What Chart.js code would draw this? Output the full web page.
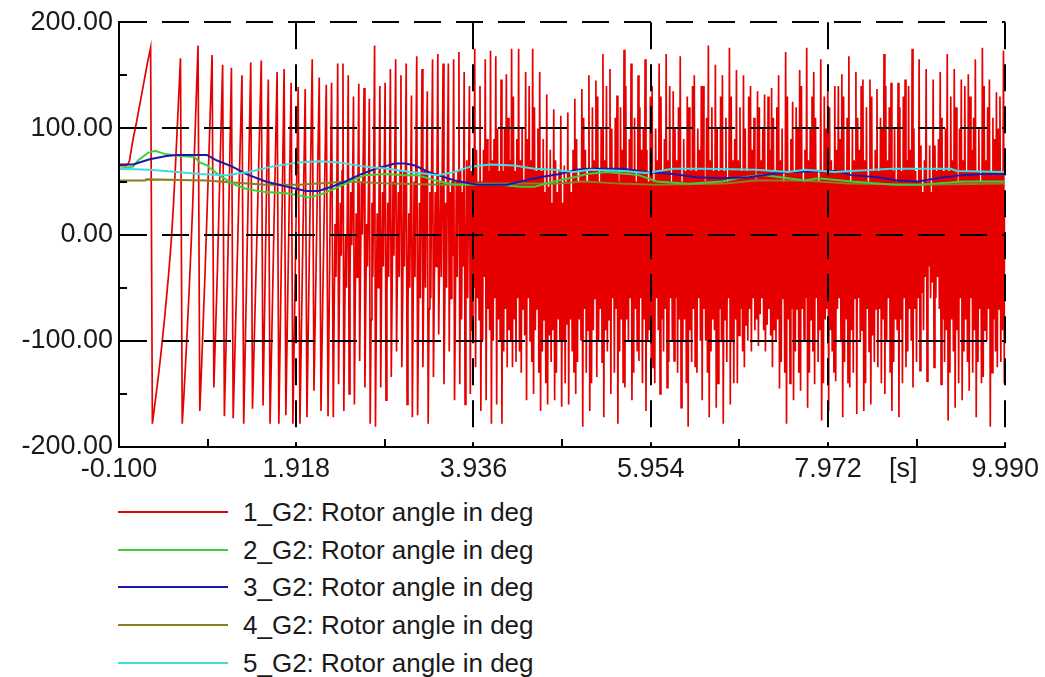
<!DOCTYPE html>
<html>
<head>
<meta charset="utf-8">
<script src="https://cdn.jsdelivr.net/npm/chart.js@4.4.1/dist/chart.umd.min.js"></script>
<style>
  html, body { margin: 0; padding: 0; background: #fff; }
  #wrap { position: relative; width: 1045px; height: 677px; overflow: hidden; }
  #c { position: absolute; left: 0; top: 0; }
  .row { position: absolute; left: 0; height: 30px; width: 700px; }
  .row .ln { position: absolute; left: 118px; width: 110px; height: 2px; top: 14px; }
  .row .tx { position: absolute; left: 243px; top: 0; line-height: 30px; font-family: "Liberation Sans", Arial, sans-serif; font-size: 26px; color: #1a1a1a; white-space: nowrap; }
</style>
</head>
<body>
<div id="wrap">
  <canvas id="c" width="1045" height="490"></canvas>
  <div id="legend"></div>
</div>
<script>
// ---------- data ----------
const seriesNames = [
  "1_G2: Rotor angle in deg",
  "2_G2: Rotor angle in deg",
  "3_G2: Rotor angle in deg",
  "4_G2: Rotor angle in deg",
  "5_G2: Rotor angle in deg"
];
const seriesColors = ["#e60000", "#3ccf3c", "#1a1aa8", "#8c7d22", "#3fdede"];

// x axis labels
const xTickValues = [-0.1, 1.918, 3.936, 5.954, 7.972, 8.83, 9.99];
const xTickLabels = ["-0.100", "1.918", "3.936", "5.954", "7.972", "[s]", "9.990"];
const xMinorValues = [0.909, 2.927, 4.945, 6.963, 8.981];
const yMinorValues = [-150, -50, 50, 150];

// 1_G2, part 1: samples every 0.02 s from -0.1 s
const rotor1aStart = -0.1;
const rotor1aStep = 0.02;
const rotor1a = [
  65,65,65,65,65,66,
  70,80,90,98,106,115,124,133,142,151,160,168,176,
  -178,-165,-152,-139,-125,-110,-94,-78,-60,-42,-22,0,28,60,95,130,166,
  -178,-150,-118,-85,-50,-12,30,80,130,178,
  -166,-125,-80,-35,15,65,118,169,
  -144,-90,-35,30,95,160,
  -171,-100,-20,65,157,
  -173,-110,-45,20,85,150,
  -178,-95,-10,75,162,
  -164,-100,-35,30,97,164,
  -161,-60,45,146,
  -178,-95,-10,70,153,
  -178,-70,40,156,
  -170,-65,40,143,
  -178,-70,35,139,
  -178,-75,30,137,
  -172,-60,55,165,
  -147,-50,50,148,
  -166,-60,40,141,
  -171,-15,143
];

// 1_G2, part 2: samples every 0.01 s from 2.34 s
const rotor1bStart = 2.34;
const rotor1bStep = 0.01;
const rotor1b = [
  -172,-70,10,-40,40,161, -141,-50,30,-20,60,161, -166,-80,0,-50,30,150,
  -150,-40,40,-10,50,130, -160,-60,20,-40,40,142, -119,-30,50,0,70,138,
  -144,-60,10,-30,40,128, -178,-80,30,-40,60,178, -181,-70,20,-50,30,140,
  -144,-40,40,-30,60,143, -156,-60,30,-40,50,156, -134,-50,50,-20,70,165,
  -110,-30,40,-40,60,150, -125,-60,60,-30,50,161, -160,-70,20,-50,40,131,
  -172,-50,50,-40,70,168, -170,-80,30,-60,50,156, -125,-40,60,-50,60,135,
  -178,-70,40,-60,70,165,
  -134,-50,40,-30,50,170, -94,-20,50,-40,60,161, -141,-60,30,-50,70,161,
  -110,40,-60,50,-20,165, -156,-70,50,-40,60,172, -141,60,-80,40,-30,153,
  -160,-40,70,-60,50,140, -150,60,-90,70,-50,175, -125,80,-60,50,-80,140,
  -166,50,-100,80,-40,165, -156,90,-70,60,-90,173, -178,70,-100,90,-60,168,
  -160,100,-80,60,-100,146, -178,60,-110,100,-70,151, -125,110,-90,70,-100,175,
  -125,130,-80,60,-120,90,-60,175,
  -110,70,-130,100,-70,50,-95,153,
  -156,90,-60,140,-100,70,-120,175,
  -150,120,-90,60,-70,100,-130,153,
  -166,60,-110,90,-80,40,-140,132,
  -160,45,-95,80,-120,30,-90,118,
  -156,70,-130,40,-80,60,-100,112,
  -162,30,-100,65,-140,50,-85,115,
  -160,60,-80,40,-110,80,-130,128,
  -150,90,-120,50,-80,60,-100,137,
  -181,110,-70,80,-130,50,-90,150,
  -166,60,-140,120,-90,70,-60,145,
  -134,130,-100,50,-70,100,-120,170,
  -172,70,-90,140,-110,60,-80,156,
  -150,100,-60,60,-130,110,-70,131,
  -178,50,-110,120,-80,80,-140,174,
  -144,140,-80,60,-100,90,-60,161,
  -156,60,-130,110,-70,50,-110,150,
  -119,120,-60,80,-140,100,-80,165,
  -166,80,-100,50,-90,130,-120,140,
  -125,50,-140,100,-60,70,-90,161,
  -150,130,-80,60,-110,90,-70,170,
  -144,70,-120,140,-60,50,-100,135,
  -119,100,-60,70,-130,120,-80,168,
  -163,50,-100,90,-80,60,-140,130,
  -181,120,-90,60,-120,140,-70,150,
  -125,60,-130,100,-60,80,-100,140,
  -156,140,-70,50,-100,110,-130,178,
  -172,70,-110,120,-80,60,-90,160,
  -163,100,-140,60,-70,130,-100,150,
  -178,60,-80,110,-120,50,-60,176,
  -160,130,-100,70,-140,90,-80,155,
  -140,70,-95,120,-70,60,-110,150,
  -125,100,-85,60,-100,130,-70,140,
  -110,80,-60,110,-90,50,-80,135,
  -105,120,-75,70,-60,100,-90,132,
  -110,60,-85,130,-70,80,-95,138,
  -125,110,-90,60,-100,120,-80,150,
  -145,70,-120,100,-60,50,-130,172,
  -178,130,-80,60,-140,90,-70,125,
  -156,60,-110,120,-70,100,-130,155,
  -147,140,-70,50,-100,80,-60,176,
  -163,70,-130,100,-80,130,-110,153,
  -141,110,-60,60,-120,50,-90,165,
  -175,60,-140,130,-80,100,-70,145,
  -166,120,-90,70,-110,60,-130,140,
  -138,80,-70,140,-60,90,-100,151,
  -172,130,-120,60,-80,110,-140,168,
  -144,50,-90,100,-130,70,-60,153,
  -169,110,-60,80,-100,140,-90,146,
  -166,70,-140,120,-70,50,-110,146,
  -160,130,-95,60,-120,80,-70,137,
  -125,60,-70,110,-140,100,-80,170,
  -150,140,-100,70,-60,120,-130,143,
  -166,60,-120,100,-80,50,-90,143,
  -172,120,-80,60,-140,130,-60,146,
  -125,70,-110,140,-70,80,-100,175,
  -144,100,-70,60,-120,50,-60,165,
  -128,84,-55,40,-90,70,-40,156,
  -138,50,-30,84,-60,40,-45,146,
  -125,84,-60,60,-40,90,-70,153,
  -141,110,-80,60,-120,100,-90,170,
  -175,60,-130,130,-80,70,-110,156,
  -163,120,-90,50,-140,100,-60,146,
  -156,70,-110,140,-80,60,-120,151,
  -147,130,-60,80,-130,110,-90,165,
  -172,60,-120,100,-70,50,-140,176,
  -134,140,-90,70,-100,120,-70,146,
  -181,60,-130,110,-80,90,-110,134,
  -125,100,-70,130,-120,60,-90,173,
  -140,20
];

// 2_G2
const tGreen = [-0.1,0.06,0.12,0.23,0.31,0.42,0.61,0.76,0.82,0.91,0.93,1.04,1.19,1.35,1.57,1.80,1.95,2.06,2.17,2.32,2.48,2.70,2.93,3.16,3.30,3.50,3.72,4.24,4.47,4.63,4.85,5.08,5.23,5.45,5.82,6.02,6.39,6.77,7.00,7.23,7.52,7.71,7.86,8.24,8.73,8.99,9.18,9.52,9.99];
const rotor2 = [62,64,70,77,79,76,74,73,68,65,63,56,48,43,40,39,37,35,37,42,48,56,57,56,56,51,47,47,45,45,50,54,57,59,56,50,48,50,54,56,53,51,53,50,47,47,48,50,50];

// 3_G2
const tBlue = [-0.1,0.06,0.25,0.44,0.56,0.90,1.01,1.19,1.35,1.57,1.72,1.87,2.03,2.17,2.32,2.48,2.63,2.82,2.96,3.04,3.16,3.27,3.42,3.72,3.98,4.32,4.47,4.69,4.92,5.11,5.23,5.64,5.90,6.21,6.47,6.77,7.07,7.34,7.52,8.05,8.24,8.54,8.76,8.99,9.22,9.49,9.75,9.99];
const rotor3 = [66,66,71,74,75,75,70,64,57,50,47,44,41,41,45,50,56,62,65,67,67,65,59,51,47,47,50,54,57,61,62,62,59,57,54,53,54,57,59,60,56,54,51,50,53,56,57,57];

// 4_G2
const tOlive = [-0.1,0.2,0.21,0.9,1.19,1.57,1.95,2.51,3.0,3.6,4.0,4.9,5.2,5.6,6.0,6.8,7.15,7.7,8.2,9.0,9.99];
const rotor4 = [51,51,52,51,49,47,47,50,48,47,48,48,50,48,47,48,51,51,48,47,48];

// 5_G2
const tCyan = [-0.1,0.25,0.56,0.82,1.12,1.38,1.64,1.95,2.17,2.40,2.70,2.96,3.22,3.53,3.72,3.90,4.13,4.40,4.63,4.85,5.08,5.26,5.64,5.90,6.21,6.58,7.15,7.52,7.71,8.05,8.24,8.70,9.37,9.44,9.99];
const rotor5 = [62,61,59,57,56,59,64,68,69,68,64,62,59,56,59,64,66,65,62,61,59,61,60,58,62,62,61,59,61,59,60,62,62,60,59];

// ---------- build ----------
const pts = (ts, vs) => vs.map((v, i) => ({ x: ts[i], y: v }));
const sampled = (start, step, vs) => vs.map((v, i) => ({ x: +(start + i * step).toFixed(4), y: v }));
const redPts = sampled(rotor1aStart, rotor1aStep, rotor1a).concat(sampled(rotor1bStart, rotor1bStep, rotor1b));

const FONT = "'Liberation Sans', Arial, sans-serif";

const minorTicks = {
  id: 'minorTicks',
  afterDraw(chart) {
    const { ctx, chartArea: a, scales: { x, y } } = chart;
    ctx.save();
    ctx.strokeStyle = '#000';
    ctx.lineWidth = 2;
    xMinorValues.forEach(v => {
      const px = Math.round(x.getPixelForValue(v));
      ctx.beginPath(); ctx.moveTo(px, a.bottom); ctx.lineTo(px, a.bottom - 8); ctx.stroke();
    });
    yMinorValues.forEach(v => {
      const py = Math.round(y.getPixelForValue(v));
      ctx.beginPath(); ctx.moveTo(a.left, py); ctx.lineTo(a.left + 8, py); ctx.stroke();
    });
    ctx.restore();
  }
};

const ds = (label, data, color, width, order) => ({
  label, data, borderColor: color, backgroundColor: color, borderWidth: width,
  pointRadius: 0, tension: 0, fill: false, order
});

new Chart(document.getElementById('c'), {
  type: 'line',
  data: {
    datasets: [
      ds(seriesNames[0], redPts, seriesColors[0], 1.7, 10),
      ds(seriesNames[1], pts(tGreen, rotor2), seriesColors[1], 2, 4),
      ds(seriesNames[2], pts(tBlue, rotor3), seriesColors[2], 2, 3),
      ds(seriesNames[3], pts(tOlive, rotor4), seriesColors[3], 2, 5),
      ds(seriesNames[4], pts(tCyan, rotor5), seriesColors[4], 2, 2)
    ]
  },
  options: {
    responsive: false,
    animation: false,
    events: [],
    layout: { padding: { left: 0, right: 37, top: 20, bottom: 0 } },
    plugins: { legend: { display: false }, tooltip: { enabled: false } },
    scales: {
      x: {
        type: 'linear', min: -0.1, max: 9.99,
        afterBuildTicks: s => { s.ticks = xTickValues.map(v => ({ value: v })); },
        afterFit: s => { s.height = 43; },
        ticks: {
          autoSkip: false, maxRotation: 0, padding: 6,
          color: '#1a1a1a', font: { family: FONT, size: 27 },
          callback: (v, i) => xTickLabels[i]
        },
        grid: {
          z: 1, color: '#000', drawTicks: false,
          lineWidth: c => (c.index === 5 ? 0 : 2)
        },
        border: { display: true, color: '#000', width: 2, dash: [27, 15], z: 1 }
      },
      y: {
        min: -200, max: 200,
        afterFit: s => { s.width = 119; },
        ticks: {
          stepSize: 100, padding: 6,
          color: '#1a1a1a', font: { family: FONT, size: 27 },
          callback: v => Number(v).toFixed(2)
        },
        grid: { z: 1, color: '#000', drawTicks: false, lineWidth: 2 },
        border: { display: true, color: '#000', width: 2, dash: [27, 15], z: 1 }
      }
    }
  },
  plugins: [minorTicks]
});

// legend (HTML)
const legendRowsY = [512, 550, 587, 625, 663];
const lg = document.getElementById('legend');
seriesNames.forEach((name, i) => {
  const row = document.createElement('div');
  row.className = 'row';
  row.style.top = (legendRowsY[i] - 15) + 'px';
  const ln = document.createElement('div');
  ln.className = 'ln';
  ln.style.background = seriesColors[i];
  const tx = document.createElement('span');
  tx.className = 'tx';
  tx.textContent = name;
  row.appendChild(ln); row.appendChild(tx);
  lg.appendChild(row);
});
</script>
</body>
</html>
